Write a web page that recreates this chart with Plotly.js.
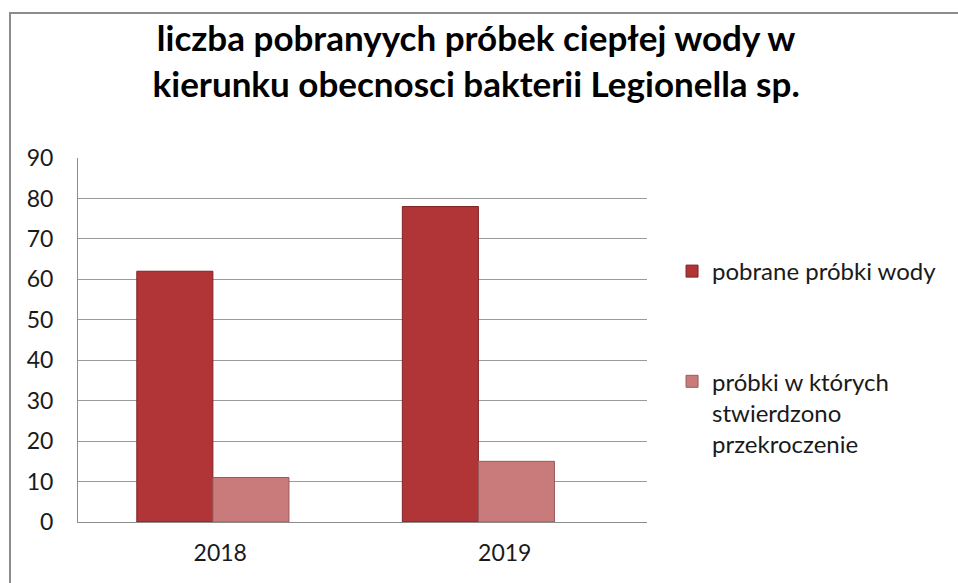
<!DOCTYPE html>
<html>
<head>
<meta charset="utf-8">
<script src="https://cdn.plot.ly/plotly-3.0.1.min.js"></script>
<style>
  body { margin: 0; background: #fff; }
  #chart { width: 958px; height: 583px; position: relative; }
  #frame { position: absolute; left: 9px; top: 12px; width: 960px; height: 600px;
           border-left: 2px solid #8c8c8c; border-top: 2px solid #8c8c8c; pointer-events: none; }
</style>
</head>
<body>
<div id="chart"></div>
<div id="frame"></div>
<script>
// lata i liczby próbek
const years = ['2018', '2019'];
const pobrane = [62, 78];
const przekroczenia = [11, 15];
const seriesNames = ['pobrane próbki wody', 'próbki w których<br>stwierdzono<br>przekroczenie'];
const yTicks = [0, 10, 20, 30, 40, 50, 60, 70, 80, 90];

const font = 'Lato, "Open Sans", sans-serif';

const trace1 = {
  type: 'bar',
  name: seriesNames[0],
  legendgroup: 'a',
  x: years,
  y: pobrane,
  marker: { color: '#b13536', line: { color: '#7e2323', width: 1 } },
  hoverinfo: 'y'
};

const trace2 = {
  type: 'bar',
  name: seriesNames[1],
  legendgroup: 'b',
  x: years,
  y: przekroczenia,
  marker: { color: '#c97b7b', line: { color: '#9a5a5a', width: 1 } },
  hoverinfo: 'y'
};

// niewidoczna seria tylko po to, by podpisać lata na całej szerokości osi
const labelTrace = {
  type: 'scatter',
  mode: 'markers',
  x: years,
  y: [null, null],
  xaxis: 'x2',
  showlegend: false,
  hoverinfo: 'skip'
};

const layout = {
  width: 958,
  height: 583,
  margin: { l: 78, r: 311, t: 158, b: 61 },
  paper_bgcolor: '#fff',
  plot_bgcolor: '#fff',
  font: { family: font, size: 23, color: '#1a1a1a' },
  title: {
    text: 'liczba pobranyych próbek ciepłej wody w<br>kierunku obecnosci bakterii Legionella sp.',
    font: { family: font, size: 35, color: '#000', weight: 'bold' },
    x: 0.497,
    xref: 'container',
    y: 0.912,
    yref: 'container',
    yanchor: 'top'
  },
  barmode: 'group',
  bargap: 0.427,
  bargroupgap: 0,
  xaxis: {
    type: 'category',
    range: [-0.508, 1.635],
    showgrid: false,
    showline: true,
    linecolor: '#8c8c8c',
    linewidth: 1,
    ticks: '',
    showticklabels: false,
    fixedrange: true
  },
  xaxis2: {
    type: 'category',
    overlaying: 'x',
    side: 'bottom',
    range: [-0.5, 1.5],
    showgrid: false,
    showline: false,
    zeroline: false,
    ticks: '',
    ticklabelstandoff: 15,
    tickfont: { family: font, size: 23, color: '#1a1a1a' },
    fixedrange: true
  },
  yaxis: {
    range: [0, 90],
    tickvals: yTicks,
    showgrid: true,
    gridcolor: '#9a9a9a',
    gridwidth: 1,
    showline: true,
    linecolor: '#8c8c8c',
    linewidth: 1,
    zeroline: false,
    ticks: '',
    ticklabelstandoff: 19,
    tickfont: { family: font, size: 23, color: '#1a1a1a' },
    fixedrange: true
  },
  showlegend: true,
  legend: {
    x: 1.044,
    xanchor: 'left',
    y: 0.75,
    yanchor: 'top',
    traceorder: 'grouped',
    tracegroupgap: 76,
    valign: 'top',
    font: { family: font, size: 24, color: '#1a1a1a' },
    itemwidth: 30,
    bgcolor: 'rgba(0,0,0,0)'
  }
};

Plotly.newPlot('chart', [trace1, trace2, labelTrace], layout, { displayModeBar: false, staticPlot: true });
</script>
</body>
</html>
